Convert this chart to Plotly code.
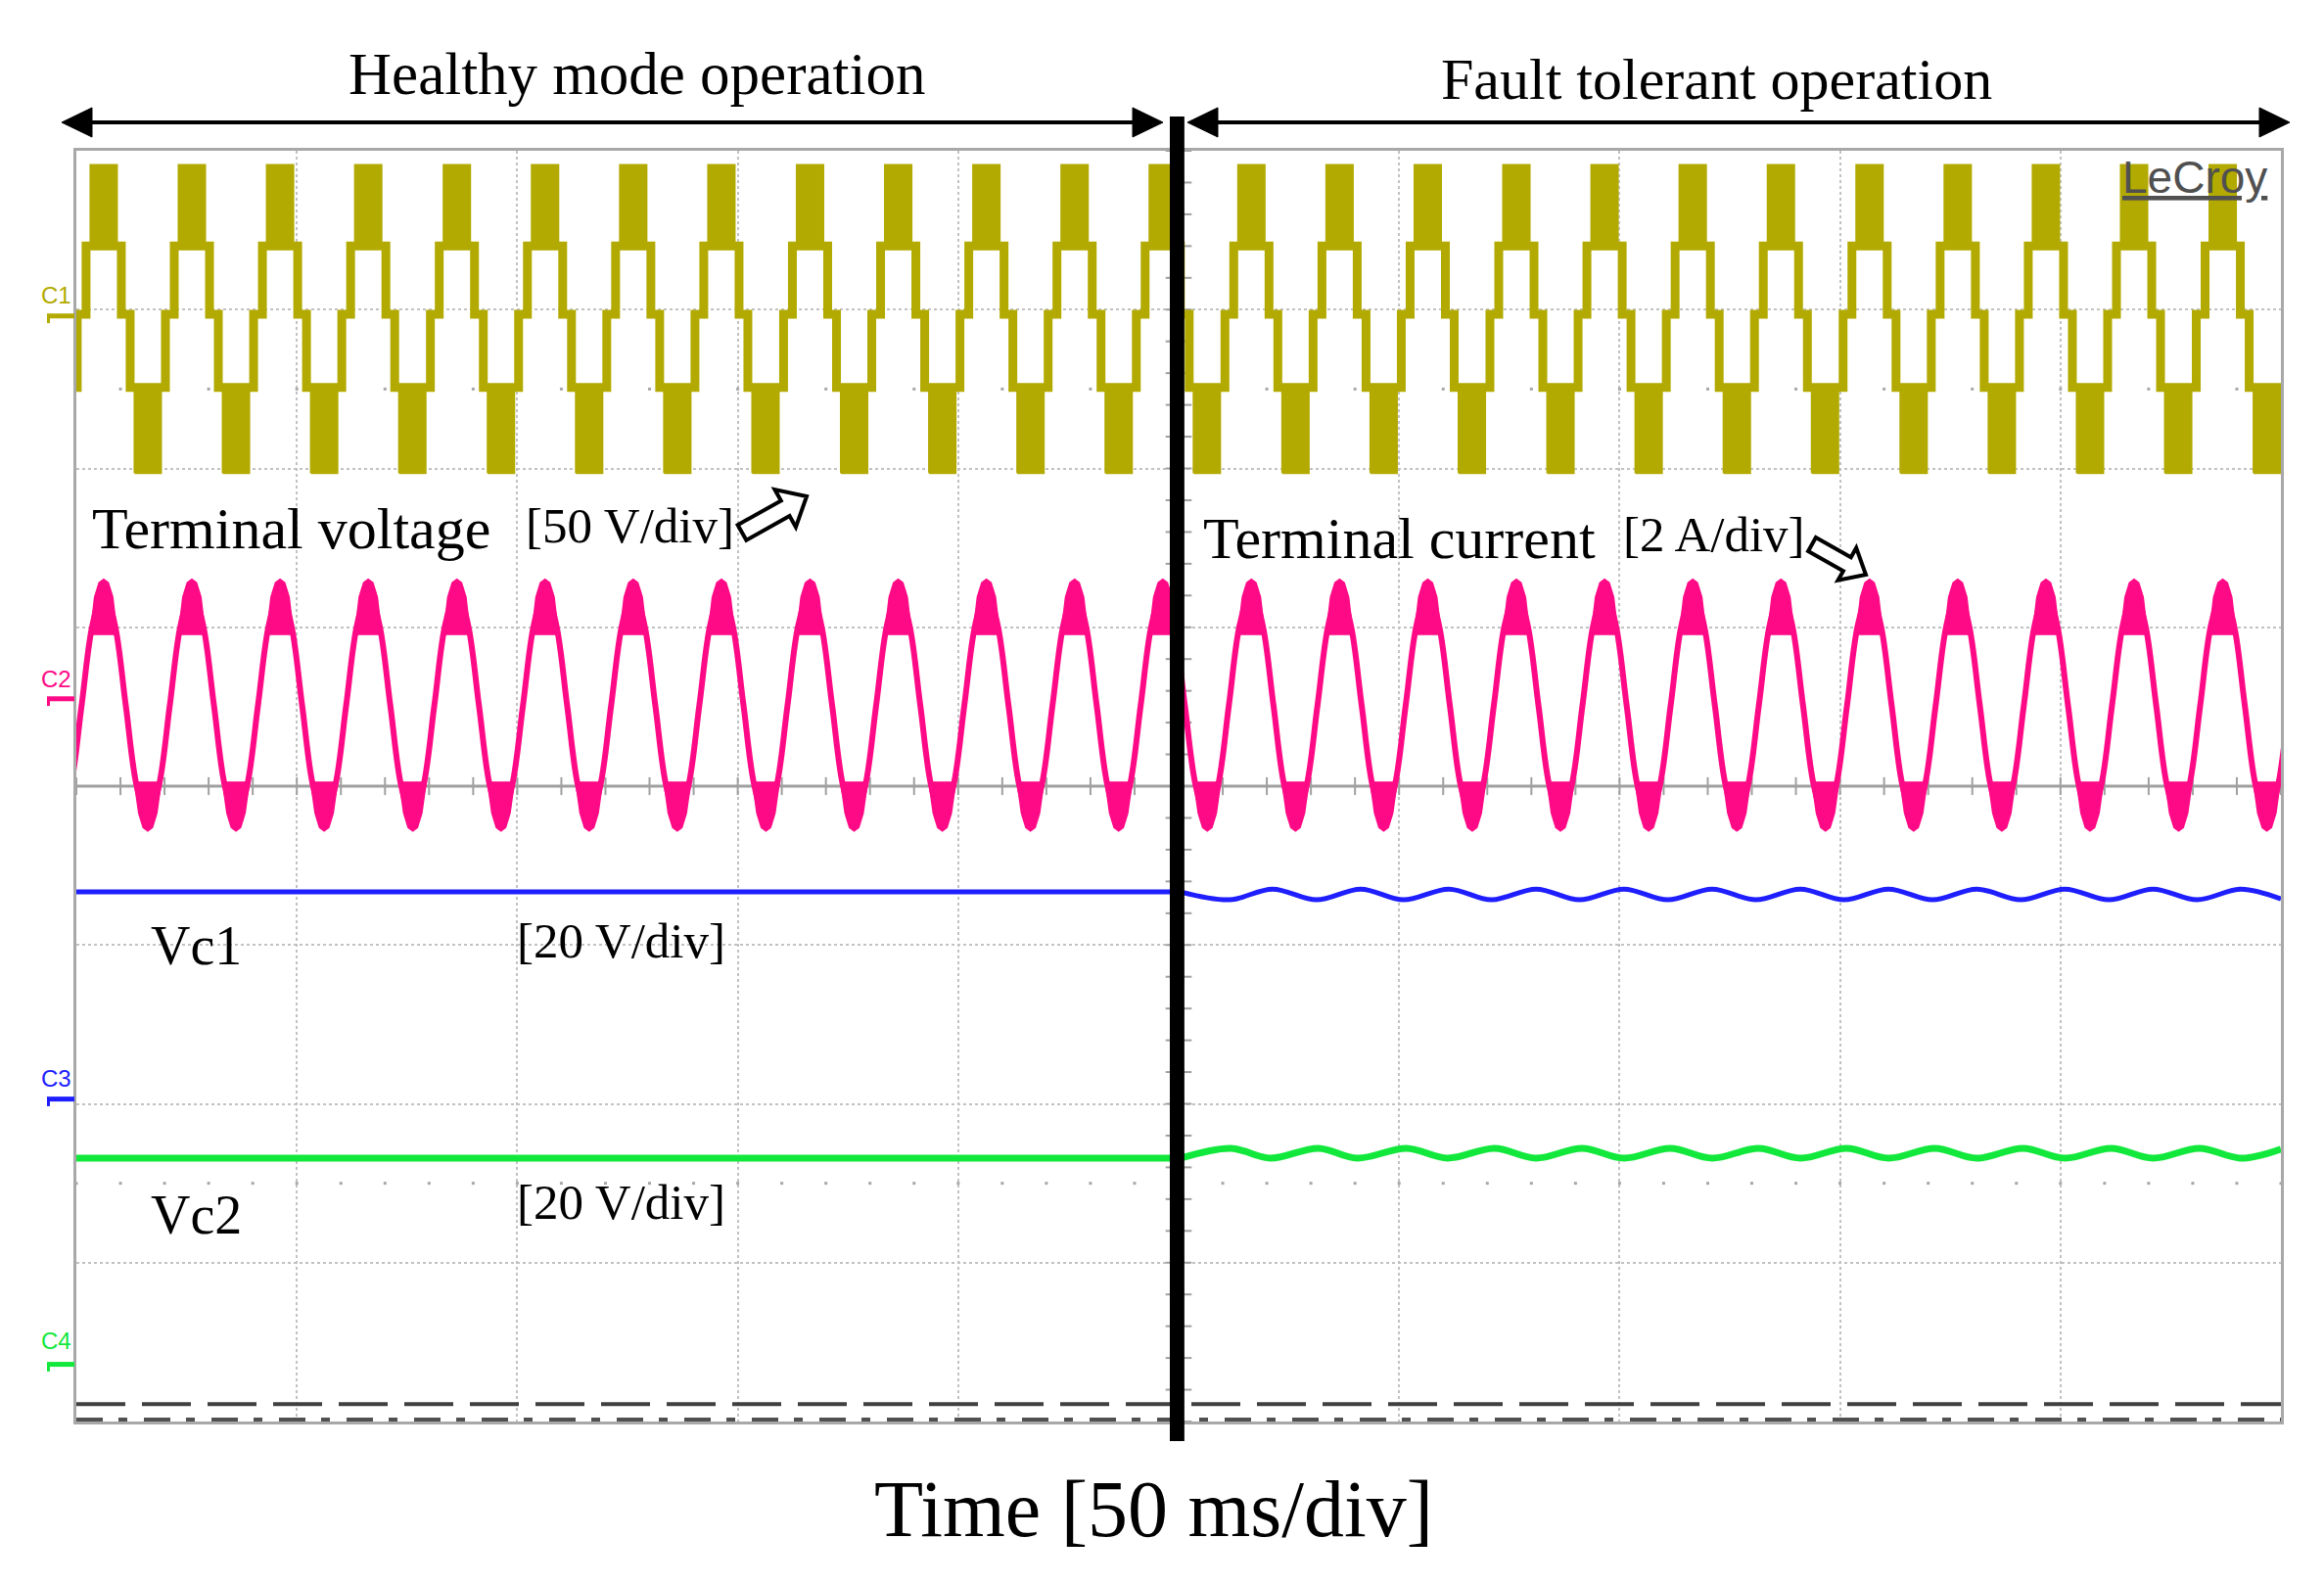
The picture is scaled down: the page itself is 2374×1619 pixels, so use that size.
import math
import plotly.graph_objects as go

# time axis in ms (10 div x 50 ms/div), vertical axis in screen divisions (8 div)

# positive peak times of the terminal voltage / current, ms
PEAK_MS = [6.2, 26.2, 46.2, 66.2, 86.3, 106.3, 126.3, 146.3, 166.4, 186.4,
           206.4, 226.4, 246.4, 266.5, 286.5, 306.5, 326.6, 346.6, 366.6,
           386.6, 406.7, 426.7, 446.7, 466.7, 486.8]

# C1 terminal voltage, level of each step [div]
C1_LEVELS = {"+2": 7.91, "+1": 7.40, "0": 6.97, "-1": 6.51, "-2": 5.97}
# stepped outline of one period, ms relative to the positive peak
C1_STEP_DT = [-6.0, -4.0, 4.0, 6.0]
C1_STEP_LV = ["0", "+1", "0", "-1"]
C1_BAND_HALF = 3.0          # half width of the PWM blocks, ms
C1_TROUGH_DT = 10.0         # negative block centre after each peak, ms

# C2 terminal current
C2_CENTER = 4.51
C2_AMP = 0.72
C2_DT = [0, 2.5, 5, 7.5, 10, 12.5, 15, 17.5]
C2_SHAPE = [1, 0.71, 0, -0.71, -1, -0.71, 0, 0.71]
C2_LEAD_DT = [-10, -7.5, -5, -2.5]
C2_LEAD_SHAPE = [-1, -0.71, 0, 0.71]
# ripple caps at peaks and troughs
C2_CAP_DT = [-3.0, -2.0, -1.0, 0, 1.0, 2.0, 3.0]
C2_CAP_UP = [4.95, 5.19, 5.28, 5.30, 5.28, 5.19, 4.95]
C2_CAP_DN = [4.03, 3.83, 3.74, 3.72, 3.74, 3.83, 4.03]

# fault instant (start of ripple on the capacitor voltages), ms
FAULT_MS = 250.5

# C3 capacitor voltage Vc1
C3_T = [0, 250.5, 261.6, 271.3, 281.3, 291.3, 301.0, 311.3,
        320.9, 331.1, 340.9, 351.0, 360.9, 371.0, 380.9, 391.0, 400.9, 411.0,
        421.0, 431.0, 441.0, 451.0, 461.0, 471.0, 481.0, 491.0, 500.0]
C3_V = [3.334, 3.334, 3.285, 3.352, 3.285, 3.352,
        3.285, 3.352, 3.285, 3.352, 3.285, 3.352, 3.285, 3.352, 3.285, 3.352,
        3.285, 3.352, 3.285, 3.352, 3.285, 3.352, 3.285, 3.352, 3.285, 3.352,
        3.29]

# C4 capacitor voltage Vc2
C4_T = [0, 250.5, 261.8, 270.8, 281.7, 290.5, 301.7, 311.0,
        321.7, 331.0, 341.5, 351.0, 361.5, 371.0, 381.5, 391.0, 401.5, 411.0,
        421.5, 431.0, 441.5, 451.0, 461.5, 471.0, 481.5, 491.0, 500.0]
C4_V = [1.658, 1.658, 1.72, 1.658, 1.72, 1.658,
        1.72, 1.658, 1.72, 1.658, 1.72, 1.658, 1.72, 1.658, 1.72, 1.658,
        1.72, 1.658, 1.72, 1.658, 1.72, 1.658, 1.72, 1.658, 1.72, 1.658,
        1.715]

# channel offset markers [div]
MARKERS = {"C1": 6.96, "C2": 4.55, "C3": 2.03, "C4": 0.36}

OLIVE = "#B2AA00"
PINK = "#FF0A86"
BLUE = "#1E1EFF"
GREEN = "#12E83C"
GRID = "#C2C2C2"
AXIS = "#A0A0A0"
SERIF = "Liberation Serif, Times New Roman, serif"
SANS = "Liberation Sans, Arial, sans-serif"


# page pixel -> paper coordinates (plot area 78..2330 x 154..1452 on the page)
def fx(p):
    return (p - 78) / 2252


def fy(p):
    return (1452 - p) / 1298


fig = go.Figure()

# graticule: centre axes with ticks, half division dots
ticks_t = [10 * i for i in range(51)]
ticks_v = [0.2 * i for i in range(41)]
fig.add_trace(go.Scatter(x=[0, 500], y=[4, 4], mode="lines",
                         line=dict(color=AXIS, width=3), hoverinfo="skip"))
fig.add_trace(go.Scatter(x=ticks_t, y=[4] * len(ticks_t), mode="markers",
                         marker=dict(symbol="line-ns", size=13,
                                     line=dict(width=2, color=AXIS)),
                         hoverinfo="skip"))
fig.add_trace(go.Scatter(x=[250] * len(ticks_v), y=ticks_v, mode="markers",
                         marker=dict(symbol="line-ew", size=19,
                                     line=dict(width=2, color=AXIS)),
                         hoverinfo="skip"))
for row in (6.5, 1.5):
    fig.add_trace(go.Scatter(x=ticks_t, y=[row] * len(ticks_t), mode="markers",
                             marker=dict(symbol="square", size=3, color="#A8A8A8"),
                             hoverinfo="skip"))

# C1 PWM blocks
bx, by = [], []
for tp in PEAK_MS:
    for c, lo, hi in ((tp, C1_LEVELS["+1"], C1_LEVELS["+2"]),
                      (tp + C1_TROUGH_DT, C1_LEVELS["-2"], C1_LEVELS["-1"])):
        a, b = c - C1_BAND_HALF, c + C1_BAND_HALF
        bx += [a, a, b, b, a, None]
        by += [lo, hi, hi, lo, lo, None]
fig.add_trace(go.Scatter(x=bx, y=by, mode="lines", fill="toself",
                         fillcolor=OLIVE, line=dict(color=OLIVE, width=2),
                         hoverinfo="skip"))

# C1 stepped outline
sx, sy = [0], [C1_LEVELS["-1"]]
for tp in PEAK_MS:
    for dt, lv in zip(C1_STEP_DT, C1_STEP_LV):
        t = tp + dt
        if 0 < t < 500:
            sx.append(t)
            sy.append(C1_LEVELS[lv])
sx.append(500)
sy.append(sy[-1])
fig.add_trace(go.Scatter(x=sx, y=sy, mode="lines", line_shape="hv",
                         line=dict(color=OLIVE, width=9), hoverinfo="skip"))

# C2 current
cx, cy = [], []
for dt, s in zip(C2_LEAD_DT, C2_LEAD_SHAPE):
    cx.append(PEAK_MS[0] + dt)
    cy.append(C2_CENTER + C2_AMP * s)
for tp in PEAK_MS:
    for dt, s in zip(C2_DT, C2_SHAPE):
        cx.append(tp + dt)
        cy.append(C2_CENTER + C2_AMP * s)
fig.add_trace(go.Scatter(x=cx, y=cy, mode="lines", line_shape="spline",
                         line=dict(color=PINK, width=6), hoverinfo="skip"))

px_, py_ = [], []
for tp in PEAK_MS:
    for c, vals in ((tp, C2_CAP_UP), (tp - 10, C2_CAP_DN), (tp + 10, C2_CAP_DN)):
        if c < -5 or (c == tp + 10 and tp != PEAK_MS[-1]):
            continue
        px_ += [c + d for d in C2_CAP_DT] + [None]
        py_ += vals + [None]
fig.add_trace(go.Scatter(x=px_, y=py_, mode="lines", fill="toself",
                         fillcolor=PINK, line=dict(color=PINK, width=2),
                         hoverinfo="skip"))

# C3 / C4 capacitor voltages: flat before the fault, rippled after it
for ts, vs, col, w in ((C3_T, C3_V, BLUE, 5), (C4_T, C4_V, GREEN, 7)):
    i0 = ts.index(FAULT_MS)
    fig.add_trace(go.Scatter(x=ts[:i0 + 1], y=vs[:i0 + 1], mode="lines",
                             line=dict(color=col, width=w), hoverinfo="skip"))
    fig.add_trace(go.Scatter(x=ts[i0:], y=vs[i0:], mode="lines", line_shape="spline",
                             line=dict(color=col, width=w), hoverinfo="skip"))

# reference lines at the bottom of the screen
fig.add_trace(go.Scatter(x=[0, 500], y=[0.11, 0.11], mode="lines",
                         line=dict(color="#404040", width=4, dash="50px,17px"),
                         hoverinfo="skip"))
fig.add_trace(go.Scatter(x=[0, 500], y=[0.012, 0.012], mode="lines",
                         line=dict(color="#505050", width=4,
                                   dash="27px,16px,9px,17px"),
                         hoverinfo="skip"))

shapes = []
# separation bar
shapes.append(dict(type="rect", xref="x", yref="paper", x0=248.0, x1=251.3,
                   y0=fy(1472), y1=fy(119), fillcolor="black",
                   line=dict(width=0), layer="above"))

# double arrows above the screen
for x_left, x_right in ((63, 1188), (1213, 2339)):
    yc = 125
    shapes.append(dict(type="line", xref="paper", yref="paper",
                       x0=fx(x_left + 20), x1=fx(x_right - 20), y0=fy(yc), y1=fy(yc),
                       line=dict(color="black", width=4)))
    for tip, base in ((x_left, x_left + 31), (x_right, x_right - 31)):
        path = "M {:.5f},{:.5f} L {:.5f},{:.5f} L {:.5f},{:.5f} Z".format(
            fx(tip), fy(yc), fx(base), fy(yc - 15), fx(base), fy(yc + 15))
        shapes.append(dict(type="path", xref="paper", yref="paper", path=path,
                           fillcolor="black", line=dict(color="black", width=1)))


def block_arrow(tail, tip, w1, w2, h):
    x0, y0 = tail
    x1, y1 = tip
    L = math.hypot(x1 - x0, y1 - y0)
    ux, uy = (x1 - x0) / L, (y1 - y0) / L
    nx, ny = -uy, ux
    local = [(0, -w1), (L - h, -w1), (L - h, -w2), (L, 0),
             (L - h, w2), (L - h, w1), (0, w1)]
    pts = [(x0 + s * ux + n * nx, y0 + s * uy + n * ny) for s, n in local]
    d = "M " + " L ".join("{:.5f},{:.5f}".format(fx(a), fy(b)) for a, b in pts) + " Z"
    return dict(type="path", xref="paper", yref="paper", path=d,
                fillcolor="white", line=dict(color="black", width=4), layer="above")


shapes.append(block_arrow((758, 544), (824, 507), 9, 22, 25))
shapes.append(block_arrow((1851, 556), (1906, 587), 8, 19, 22))

# channel offset markers
for name, col in (("C1", OLIVE), ("C2", PINK), ("C3", BLUE), ("C4", GREEN)):
    v = MARKERS[name]
    shapes.append(dict(type="line", xref="paper", yref="y", x0=fx(48), x1=fx(76),
                       y0=v, y1=v, line=dict(color=col, width=5)))
    shapes.append(dict(type="line", xref="paper", yref="y", x0=fx(49.5), x1=fx(49.5),
                       y0=v, y1=v - 0.045, line=dict(color=col, width=3)))

annotations = []


def label(text, x, y, size, anchor="left", family=SERIF, color="black"):
    annotations.append(dict(text=text, xref="paper", yref="paper", x=fx(x), y=fy(y),
                            xanchor=anchor, yanchor="middle", showarrow=False,
                            font=dict(family=family, size=size, color=color)))


label("Healthy mode operation", 650, 76, 61, "center")
label("Fault tolerant operation", 1753, 81, 60, "center")
label("Terminal voltage", 92, 540, 60)
label("[50 V/div]", 535, 537, 51)
label("Terminal current", 1227, 550, 60)
label("[2 A/div]", 1656, 546, 51)
label("Vc1", 152, 966, 56)
label("[20 V/div]", 526, 961, 51)
label("Vc2", 152, 1241, 56)
label("[20 V/div]", 526, 1228, 51)
label("Time [50 ms/div]", 1178, 1541, 82, "center")
label("<u>LeCroy</u>", 2166, 181, 46, family=SANS, color="#505050")

label("C1", 57, 301, 24, "center", SANS, OLIVE)
label("C2", 57, 693, 24, "center", SANS, PINK)
label("C3", 57, 1101, 24, "center", SANS, BLUE)
label("C4", 57, 1369, 24, "center", SANS, GREEN)

axis_common = dict(showgrid=True, gridcolor=GRID, gridwidth=2, griddash="dot",
                   showticklabels=False, ticks="", zeroline=False,
                   showline=True, mirror=True, linecolor="#A8A8A8", linewidth=3,
                   fixedrange=True)

# the page body keeps its default 8 px margin, so the figure is 8 px smaller
fig.update_layout(
    width=2366, height=1611,
    margin=dict(l=70, r=44, t=146, b=167),
    paper_bgcolor="white", plot_bgcolor="white",
    showlegend=False,
    xaxis=dict(range=[0, 500], tick0=0, dtick=50, **axis_common),
    yaxis=dict(range=[0, 8], tick0=0, dtick=1, **axis_common),
    shapes=shapes,
    annotations=annotations,
)

fig.write_html("out.html")
